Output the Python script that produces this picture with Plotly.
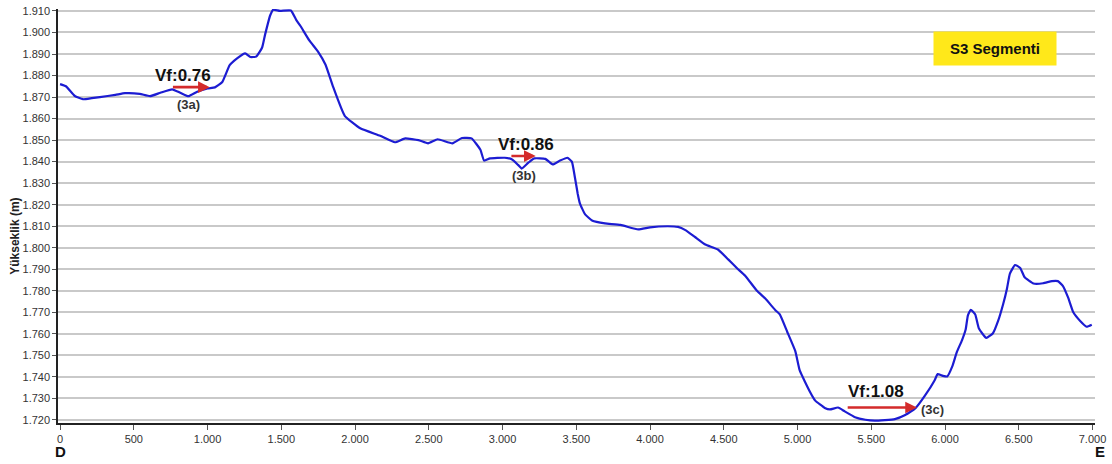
import plotly.graph_objects as go

# Distance along profile (m) and elevation (m)
distance = [0, 40, 100, 155, 215, 270, 375, 440, 540, 610, 680, 760, 815, 870, 930, 1000,
            1050, 1100, 1150, 1200, 1255, 1290, 1330, 1370, 1390, 1425, 1445, 1490, 1565,
            1600, 1630, 1690, 1750, 1800, 1850, 1930, 2035, 2170, 2270, 2340, 2430, 2495,
            2560, 2660, 2725, 2790, 2850, 2875, 2915, 3015, 3065, 3105, 3130, 3175, 3215,
            3290, 3340, 3390, 3440, 3470, 3490, 3510, 3525, 3560, 3610, 3695, 3800, 3920,
            4000, 4120, 4190, 4240, 4305, 4375, 4460, 4530, 4590, 4645, 4725, 4780, 4850,
            4880, 4930, 4985, 5015, 5085, 5120, 5185, 5220, 5275, 5320, 5390, 5460, 5525,
            5660, 5730, 5800, 5865, 5930, 5950, 5985, 6015, 6050, 6080, 6115, 6140, 6155,
            6175, 6205, 6230, 6280, 6325, 6360, 6395, 6420, 6440, 6475, 6510, 6540, 6600,
            6665, 6725, 6765, 6800, 6835, 6870, 6915, 6960, 6995]
elevation = [1876, 1875, 1870.5, 1869, 1869.5, 1870, 1871, 1871.8, 1871.5, 1870.4, 1872, 1873.6,
             1872, 1870.4, 1872.5, 1874, 1874.5, 1877, 1884.8, 1888, 1890.3, 1888.6, 1888.8,
             1893, 1899, 1908, 1910.6, 1910, 1910.2, 1906, 1903, 1896.3, 1891, 1885, 1875,
             1861.3, 1855.5, 1852, 1849, 1850.8, 1850, 1848.5, 1850.4, 1848.5, 1851, 1850.8,
             1845.5, 1840.5, 1841.5, 1841.8, 1841, 1838.5, 1836.8, 1839.5, 1841.5, 1841.3,
             1838.7, 1840.5, 1841.8, 1840, 1833, 1825, 1820.5, 1815.5, 1812.5, 1811.3, 1810.6,
             1808.5, 1809.5, 1810, 1809.7, 1808.2, 1805, 1801.5, 1799.2, 1794.6, 1790.5, 1787,
             1780, 1776.5, 1771, 1769, 1761, 1752, 1743, 1733, 1729, 1725.6, 1724.9, 1725.8,
             1724, 1721.3, 1720.1, 1719.7, 1720.4, 1722.3, 1725.5, 1731.4, 1738.5, 1741.3,
             1740.5, 1740.2, 1745, 1751.5, 1757, 1762, 1768.5, 1771.2, 1769, 1762.5, 1758.1,
             1760.3, 1766, 1774, 1781, 1788, 1792, 1790.6, 1786.3, 1783.4, 1783.5, 1784.5,
             1784.5, 1782.2, 1776.8, 1770, 1766.1, 1763.3, 1764.2]

y_ticks = [1720, 1730, 1740, 1750, 1760, 1770, 1780, 1790, 1800, 1810, 1820, 1830, 1840,
           1850, 1860, 1870, 1880, 1890, 1900, 1910]
x_ticks = [0, 500, 1000, 1500, 2000, 2500, 3000, 3500, 4000, 4500, 5000, 5500, 6000, 6500, 7000]

# Velocity factor annotations
vf_labels = ["Vf:0.76", "Vf:0.86", "Vf:1.08"]
vf_label_x = [835, 3160, 5535]
vf_label_y = [1879.8, 1847.8, 1733.2]
arrow_x0 = [755, 3050, 5330]
arrow_x1 = [1015, 3225, 5810]
arrow_y = [1874.6, 1842.6, 1725.8]
site_labels = ["(3a)", "(3b)", "(3c)"]
site_x = [870, 3145, 5915]
site_y = [1866.6, 1833.6, 1725.0]

FONT = "Liberation Sans, Arial, sans-serif"

fig = go.Figure()
fig.add_trace(go.Scatter(x=distance, y=elevation, mode="lines",
                         line=dict(color="#1c1cd2", width=2.2, shape="spline", smoothing=0.4),
                         hoverinfo="x+y", showlegend=False))

annotations = []
for i in range(3):
    annotations.append(dict(x=arrow_x1[i], y=arrow_y[i], ax=arrow_x0[i], ay=arrow_y[i],
                            xref="x", yref="y", axref="x", ayref="y", text="",
                            showarrow=True, arrowhead=2, arrowsize=0.9, arrowwidth=2.6,
                            arrowcolor="#d42b2b"))
    annotations.append(dict(x=vf_label_x[i], y=vf_label_y[i], xref="x", yref="y",
                            xanchor="center", yanchor="middle",
                            text="<b>%s</b>" % vf_labels[i], showarrow=False,
                            font=dict(family=FONT, size=17, color="#111111")))
    annotations.append(dict(x=site_x[i], y=site_y[i], xref="x", yref="y",
                            xanchor="center", yanchor="middle",
                            text="<b>%s</b>" % site_labels[i], showarrow=False,
                            font=dict(family=FONT, size=13, color="#333333")))

pix = []
pix.append(dict(x=995, y=45, text="<b>S3 Segmenti</b>", showarrow=False,
                font=dict(family=FONT, size=15, color="#111111"),
                bgcolor="#ffe81a", borderpad=8, width=106))
pix.append(dict(x=15, y=235, text="<b>Yükseklik (m)</b>", textangle=-90, showarrow=False,
                font=dict(family=FONT, size=12, color="#222222")))
pix.append(dict(x=60, y=452, text="<b>D</b>", showarrow=False,
                font=dict(family=FONT, size=15, color="#111111")))
pix.append(dict(x=1100, y=452, text="<b>E</b>", showarrow=False,
                font=dict(family=FONT, size=15, color="#111111")))

# convert pixel-positioned annotations to paper coords
L, R, T, B = 58, 17, 5, 41
W, H = 1112, 464
pw, ph = W - L - R, H - T - B
for a in pix:
    px, py = a["x"], a["y"]
    a["x"] = (px - L) / pw
    a["y"] = 1 - (py - T) / ph
    a["xref"] = "paper"
    a["yref"] = "paper"
    a["xanchor"] = "center"
    a["yanchor"] = "middle"
annotations.extend(pix)

fig.update_layout(
    width=W, height=H,
    margin=dict(l=L, r=R, t=T, b=B),
    paper_bgcolor="white", plot_bgcolor="white",
    separators=",.",
    font=dict(family=FONT, size=11, color="#333333"),
    annotations=annotations,
    xaxis=dict(range=[-14, 7017], tickmode="array", tickvals=x_ticks, tickformat=",d",
               showgrid=False, zeroline=False, showline=True, linecolor="#222222", linewidth=1.5,
               ticks="outside", ticklen=5, tickcolor="#555555", tickfont=dict(size=11, color="#333333")),
    yaxis=dict(range=[1718.6, 1910.9], tickmode="array", tickvals=y_ticks, tickformat=",d",
               showgrid=True, gridcolor="#c9c9c9", gridwidth=1.5, zeroline=False,
               showline=True, linecolor="#222222", linewidth=1.5,
               ticks="outside", ticklen=4, tickcolor="#555555", tickfont=dict(size=11, color="#333333")),
)

fig.write_html("out.html")
